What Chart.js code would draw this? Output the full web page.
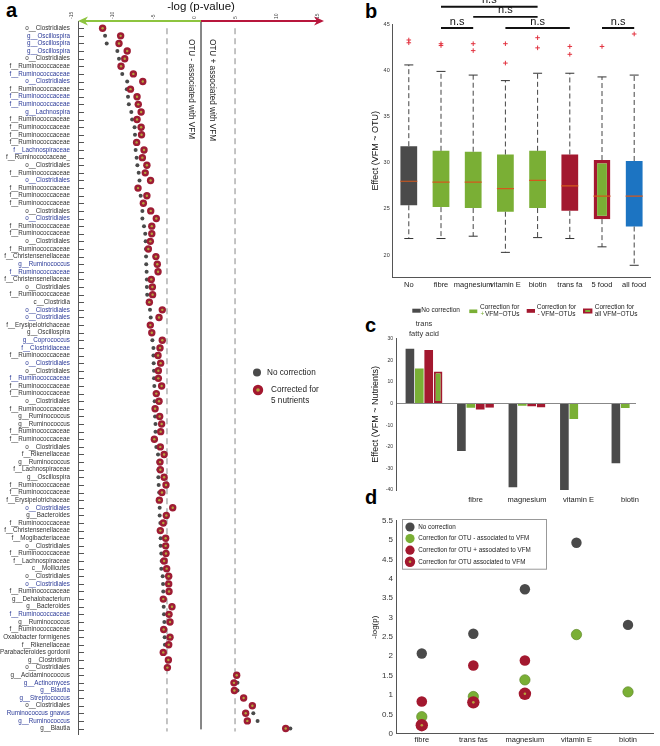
<!DOCTYPE html>
<html>
<head>
<meta charset="utf-8">
<script src="https://cdn.jsdelivr.net/npm/chart.js@4.4.1/dist/chart.umd.min.js"></script>
<style>
  body { margin:0; background:#fff; width:660px; height:746px; position:relative; overflow:hidden; font-family:'Liberation Sans', Arial, sans-serif; }
  canvas { position:absolute; }
  .tag { position:absolute; font:bold 20px 'Liberation Sans', Arial, sans-serif; line-height:20px; color:#000; }
</style>
</head>
<body>
<div class="tag" style="left:6px;top:0px">a</div>
<div class="tag" style="left:365px;top:1px">b</div>
<div class="tag" style="left:365px;top:315px">c</div>
<div class="tag" style="left:365px;top:487px">d</div>
<canvas id="chartA" width="340" height="746" style="left:0;top:0"></canvas>
<canvas id="chartB" width="290" height="292" style="left:370px;top:0"></canvas>
<canvas id="chartC" width="290" height="215" style="left:370px;top:292px"></canvas>
<canvas id="chartD" width="290" height="241" style="left:370px;top:505px"></canvas>
<script>
// ---------- panel a : OTUs, -log(p) with and without correction ----------
const taxa = [
  'o__Clostridiales','g__Oscillospira','g__Oscillospira','g__Oscillospira','o__Clostridiales',
  'f__Ruminococcaceae','f__Ruminococcaceae','o__Clostridiales','f__Ruminococcaceae','f__Ruminococcaceae',
  'f__Ruminococcaceae','g__Lachnospira','f__Ruminococcaceae','f__Ruminococcaceae','f__Ruminococcaceae',
  'f__Ruminococcaceae','f__Lachnospiraceae','f__Ruminococcaceae_','o__Clostridiales','f__Ruminococcaceae',
  'o__Clostridiales','f__Ruminococcaceae','f__Ruminococcaceae','f__Ruminococcaceae','o__Clostridiales',
  'o__Clostridiales','f__Ruminococcaceae','f__Ruminococcaceae','o__Clostridiales','f__Ruminococcaceae',
  'f__Christensenellaceae','g__Ruminococcus','f__Ruminococcaceae','f__Christensenellaceae','o__Clostridiales',
  'f__Ruminococcaceae','c__Clostridia','o__Clostridiales','o__Clostridiales','f__Erysipelotrichaceae',
  'g__Oscillospira','g__Coprococcus','f__Clostridiaceae','f__Ruminococcaceae','o__Clostridiales',
  'o__Clostridiales','f__Ruminococcaceae','f__Ruminococcaceae','f__Ruminococcaceae','o__Clostridiales',
  'f__Ruminococcaceae','g__Ruminococcus','g__Ruminococcus','f__Ruminococcaceae','f__Ruminococcaceae',
  'o__Clostridiales','f__Rikenellaceae','g__Ruminococcus','f__Lachnospiraceae','g__Oscillospira',
  'f__Ruminococcaceae','f__Ruminococcaceae','f__Erysipelotrichaceae','o__Clostridiales','g__Bacteroides',
  'f__Ruminococcaceae','f__Christensenellaceae','f__Mogibacteriaceae','o__Clostridiales','f__Ruminococcaceae',
  'f__Lachnospiraceae','c__Mollicutes','o__Clostridiales','o__Clostridiales','f__Ruminococcaceae',
  'g__Dehalobacterium','g__Bacteroides','f__Ruminococcaceae','g__Ruminococcus','f__Ruminococcaceae',
  'Oxalobacter formigenes','f__Rikenellaceae','Parabacteroides gordonii','g__Clostridium','o__Clostridiales',
  'g__Acidaminococcus','g__Actinomyces','g__Blautia','g__Streptococcus','o__Clostridiales',
  'Ruminococcus gnavus','g__Ruminococcus','g__Blautia'
];
// rows whose label is printed in blue (1-based)
const highlightedRows = [2,3,4,7,8,10,11,12,17,21,26,32,33,38,39,42,43,45,47,64,74,78,87,88,89,91,92];

const pNoCorrection = [
  -12.0,-11.7,-11.5,-10.2,-10.0,-9.8,-9.6,-9.0,-9.05,-8.9,
  -8.8,-8.5,-8.4,-8.1,-8.05,-8.05,-7.97,-7.85,-7.76,-7.6,
  -7.5,-7.7,-7.36,-7.1,-7.15,-7.15,-6.95,-6.8,-6.75,-6.72,
  -6.7,-6.68,-6.63,-6.6,-6.6,-6.56,-6.45,-6.22,-6.13,-6.15,
  -6.05,-5.93,-5.8,-5.8,-5.77,-5.73,-5.73,-5.69,-5.6,-5.65,
  -5.65,-5.6,-5.55,-5.55,-5.6,-5.45,-5.24,-5.2,-5.2,-5.2,
  -5.16,-5.1,-5.1,-5.04,-5.04,-4.96,-4.95,-4.92,-4.92,-4.84,
  -4.8,-4.84,-4.67,-4.63,-4.6,-4.6,-4.55,-4.51,-4.47,-4.5,
  -4.43,-4.4,-4.5,-4.0,-4.1,4.3,4.45,4.45,5.2,6.26,
  6.38,6.9,10.9
];
const pCorrected = [
  -12.0,-9.8,-10.0,-9.0,-9.3,-9.75,-8.25,-7.1,-8.6,-7.8,
  -7.65,-7.3,-7.8,-7.3,-7.25,-7.85,-6.95,-7.15,-6.6,-6.8,
  -6.15,-7.68,-6.6,-7.03,-6.13,-5.45,-6.0,-6.0,-6.18,-6.42,
  -5.5,-5.33,-5.24,-6.06,-5.93,-5.9,-6.3,-4.72,-5.12,-6.18,
  -6.0,-4.72,-5.0,-5.24,-4.92,-5.2,-5.2,-4.8,-5.45,-5.12,
  -5.6,-5.04,-4.8,-4.92,-5.69,-4.96,-4.5,-5.0,-4.96,-4.5,
  -4.27,-4.76,-5.08,-3.45,-4.23,-4.6,-4.96,-4.31,-4.31,-4.27,
  -4.5,-4.19,-3.94,-3.94,-3.9,-4.6,-3.54,-3.9,-3.78,-4.55,
  -3.78,-3.94,-4.6,-3.98,-4.1,4.35,4.02,4.07,5.2,6.26,
  5.45,5.65,10.33
];
const sigThreshold = 4.15;

// ---------- panel b : effect boxplots ----------
const boxGroups = ['No','fibre','magnesium','vitamin E','biotin','trans fa','5 food','all food'];
const boxMin    = [21.8, 21.8, 22.05, 20.3, 21.9, 21.8, 20.9, 18.9];
const boxQ1     = [25.4, 25.2, 25.1, 24.7, 25.1, 24.8, 23.9, 23.1];
const boxMedian = [28.0, 27.9, 27.9, 27.2, 28.1, 27.5, 26.4, 26.4];
const boxQ3     = [31.8, 31.3, 31.2, 30.9, 31.3, 30.9, 30.3, 30.2];
const boxMax    = [40.6, 39.9, 39.5, 38.9, 39.7, 39.7, 39.3, 39.5];
const outlierGroup = ['No','No','fibre','fibre','magnesium','magnesium','vitamin E','vitamin E','biotin','biotin','trans fa','trans fa','5 food','all food'];
const outlierValue = [43.0, 43.3, 42.7, 42.9, 42.9, 42.15, 42.9, 40.8, 43.55, 42.45, 42.6, 41.75, 42.6, 43.95];
const boxTicks = [20, 25, 30, 35, 40, 45];
const sigFrom  = ['fibre','magnesium','fibre','vitamin E','5 food'];
const sigTo    = ['biotin','biotin','magnesium','trans fa','all food'];
const sigLevel = [46.9, 45.8, 44.6, 44.6, 44.6];

// ---------- panel c : effect of nutrients ----------
const nutrients = ['trans fatty acid','fibre','magnesium','vitamin E','biotin'];
const effectNoCorr    = [25.3, -21.9, -38.7, -40, -27.6];
const effectPlusCorr  = [16.2, -2.0, -1.0, -7.1, -2.1];
const effectMinusCorr = [24.8, -2.8, -1.3, null, null];
const effectAllCorr   = [14.8, -2.0, -1.8, null, null];

// ---------- panel d : -log(p) of nutrients ----------
const dNutrients = ['fibre','trans fas','magnesium','vitamin E','biotin'];
const logpNoCorr    = [2.07, 2.58, 3.73, 4.93, 2.81];
const logpMinusOtu  = [0.44, 0.96, 1.39, 2.56, 1.08];
const logpPlusOtu   = [0.83, 1.76, 1.89, null, null];
const logpAllOtu    = [0.22, 0.81, 1.03, null, null];

const GRAY = '#4a4a4a', GREEN = '#7aaf35', RED = '#a3182f', BLUE = '#1c74c2', OLIVE = '#b6a43c';

Chart.defaults.font.family = "'Liberation Sans', Arial, sans-serif";
Chart.defaults.color = '#333';
Chart.defaults.plugins.legend.display = false;
Chart.defaults.plugins.tooltip.enabled = false;

// ----- panel a -----
const panelADecor = {
  id: 'panelADecor',
  afterDraw(chart) {
    const { ctx, chartArea, scales: { x, y } } = chart;
    ctx.save();
    // small inside ticks on the taxa axis
    ctx.strokeStyle = '#555';
    ctx.lineWidth = 1;
    y.ticks.forEach(t => {
      const py = Math.round(y.getPixelForValue(t.value)) + 0.5;
      ctx.beginPath(); ctx.moveTo(chartArea.left, py); ctx.lineTo(chartArea.left + 6, py); ctx.stroke();
    });
    // the two arrows on the top axis
    const x0 = x.getPixelForValue(0), yTop = chartArea.top;
    const arrow = (xEnd, color) => {
      const dir = Math.sign(xEnd - x0);
      ctx.strokeStyle = color; ctx.fillStyle = color; ctx.lineWidth = 2;
      ctx.beginPath(); ctx.moveTo(x0, yTop); ctx.lineTo(xEnd - dir * 6, yTop); ctx.stroke();
      ctx.beginPath();
      ctx.moveTo(xEnd, yTop);
      ctx.lineTo(xEnd - dir * 10, yTop - 4.5);
      ctx.lineTo(xEnd - dir * 7, yTop);
      ctx.lineTo(xEnd - dir * 10, yTop + 4.5);
      ctx.closePath(); ctx.fill();
    };
    arrow(x.getPixelForValue(x.min), '#8dc43f');
    arrow(x.getPixelForValue(x.max), '#b8163c');
    // rotated notes either side of zero
    ctx.fillStyle = '#222';
    ctx.font = "8.2px 'Liberation Sans', Arial, sans-serif";
    ctx.textBaseline = 'middle';
    ctx.textAlign = 'left';
    [['OTU - associated with VFM', -9.5], ['OTU + associated with VFM', 11.5]].forEach(([txt, dx]) => {
      ctx.save();
      ctx.translate(x0 + dx, 39);
      ctx.rotate(Math.PI / 2);
      ctx.fillText(txt, 0, 0);
      ctx.restore();
    });
    // legend
    ctx.font = "8.2px 'Liberation Sans', Arial, sans-serif";
    ctx.fillStyle = GRAY;
    ctx.beginPath(); ctx.arc(257, 372.5, 4, 0, Math.PI * 2); ctx.fill();
    ctx.fillStyle = RED;
    ctx.beginPath(); ctx.arc(258, 390, 5.2, 0, Math.PI * 2); ctx.fill();
    ctx.fillStyle = OLIVE;
    ctx.beginPath(); ctx.arc(258, 390, 1.8, 0, Math.PI * 2); ctx.fill();
    ctx.fillStyle = '#222';
    ctx.fillText('No correction', 267, 373);
    ctx.fillText('Corrected for', 271, 390);
    ctx.fillText('5 nutrients', 271, 401);
    ctx.restore();
  }
};

new Chart(document.getElementById('chartA'), {
  type: 'scatter',
  data: {
    datasets: [
      { data: pCorrected.map((v, i) => ({ x: v, y: i + 1 })), pointRadius: 1.2, backgroundColor: OLIVE, borderWidth: 0 },
      { data: pCorrected.map((v, i) => ({ x: v, y: i + 1 })), pointRadius: 3.7, backgroundColor: '#9e1c34', borderWidth: 0 },
      { data: pNoCorrection.map((v, i) => ({ x: v, y: i + 1 })), pointRadius: 2, backgroundColor: GRAY, borderWidth: 0 },
      { type: 'line', data: [{ x: -sigThreshold, y: 1 }, { x: -sigThreshold, y: 93.4 }], borderColor: '#aaa', borderDash: [6, 4], borderWidth: 1.4, pointRadius: 0 },
      { type: 'line', data: [{ x: sigThreshold, y: 1 }, { x: sigThreshold, y: 93.4 }], borderColor: '#aaa', borderDash: [6, 4], borderWidth: 1.4, pointRadius: 0 },
      { type: 'line', data: [{ x: 0, y: 0.05 }, { x: 0, y: 93.1 }], borderColor: '#777', borderWidth: 1, pointRadius: 0 }
    ]
  },
  options: {
    responsive: false,
    animation: false,
    devicePixelRatio: 1,
    layout: { padding: { top: 0, right: 16, bottom: 8, left: 0 } },
    scales: {
      x: {
        type: 'linear', position: 'top', min: -15, max: 15,
        ticks: { stepSize: 5, font: { size: 5 }, minRotation: 90, maxRotation: 90, padding: 2, color: '#444' },
        grid: { display: false, drawTicks: false },
        border: { display: false },
        title: { display: true, text: '-log (p-value)', font: { size: 11.5 }, padding: 0, color: '#111' },
        afterFit: s => { s.height = 21; }
      },
      y: {
        type: 'linear', reverse: true, min: 0.05, max: 93.75,
        afterBuildTicks: s => { s.ticks = taxa.map((t, i) => ({ value: i + 1 })); },
        ticks: {
          autoSkip: false, font: { size: 6.3 }, padding: 8,
          callback: v => taxa[v - 1],
          color: ctx => highlightedRows.includes(ctx.tick.value) ? '#2b3a98' : '#333'
        },
        grid: { display: false, drawTicks: false },
        border: { display: true, color: '#555' },
        afterFit: s => { s.width = 78; }
      }
    }
  },
  plugins: [panelADecor]
});

// ----- panel b -----
const whiskerPoints = [];
boxGroups.forEach((g, i) => {
  whiskerPoints.push({ x: g, y: boxQ3[i] }, { x: g, y: boxMax[i] }, { x: g, y: null });
  whiskerPoints.push({ x: g, y: boxQ1[i] }, { x: g, y: boxMin[i] }, { x: g, y: null });
});
const boxColors = [GRAY, GREEN, GREEN, GREEN, GREEN, RED, GREEN, BLUE];

const sigBrackets = {
  id: 'sigBrackets',
  afterDraw(chart) {
    const { ctx, scales: { x, y } } = chart;
    ctx.save();
    ctx.strokeStyle = '#111'; ctx.lineWidth = 1.8;
    ctx.fillStyle = '#111';
    ctx.font = "11px 'Liberation Sans', Arial, sans-serif";
    ctx.textAlign = 'center'; ctx.textBaseline = 'bottom';
    sigFrom.forEach((from, k) => {
      const xa = x.getPixelForValue(boxGroups.indexOf(from));
      const xb = x.getPixelForValue(boxGroups.indexOf(sigTo[k]));
      const py = y.getPixelForValue(sigLevel[k]);
      ctx.beginPath(); ctx.moveTo(xa, py); ctx.lineTo(xb, py); ctx.stroke();
      ctx.fillText('n.s', (xa + xb) / 2, py - 1);
    });
    ctx.restore();
  }
};

new Chart(document.getElementById('chartB'), {
  type: 'bar',
  data: {
    labels: boxGroups,
    datasets: [
      { type: 'scatter', data: outlierGroup.map((g, i) => ({ x: g, y: outlierValue[i] })), pointStyle: 'cross', pointRadius: 2.3, borderColor: '#e2323f', borderWidth: 1 },
      { type: 'scatter', data: boxGroups.map((g, i) => ({ x: g, y: boxMedian[i] })), pointStyle: 'line', pointRadius: 8.5, borderColor: '#d4581c', borderWidth: 1.2 },
      { type: 'scatter', data: boxGroups.map((g, i) => ({ x: g, y: boxMin[i] })).concat(boxGroups.map((g, i) => ({ x: g, y: boxMax[i] }))), pointStyle: 'line', pointRadius: 4.5, borderColor: '#333', borderWidth: 1 },
      { type: 'line', data: whiskerPoints, borderColor: '#444', borderWidth: 1, borderDash: [5, 3], pointRadius: 0, spanGaps: false },
      {
        data: boxGroups.map((g, i) => [boxQ1[i], boxQ3[i]]),
        backgroundColor: boxColors,
        borderColor: boxGroups.map((g, i) => g === '5 food' ? RED : boxColors[i]),
        borderWidth: boxGroups.map(g => g === '5 food' ? 3.5 : 0),
        borderSkipped: false,
        categoryPercentage: 0.52, barPercentage: 1
      }
    ]
  },
  options: {
    responsive: false,
    animation: false,
    devicePixelRatio: 1,
    layout: { padding: { top: 24.3, right: 3, bottom: 0, left: 0 } },
    scales: {
      x: {
        type: 'category',
        ticks: { font: { size: 7.5 }, padding: 3, color: '#222', autoSkip: false, minRotation: 0, maxRotation: 0 },
        grid: { display: false, drawTicks: false },
        border: { color: '#555' },
        afterFit: s => { s.height = 14.7; }
      },
      y: {
        min: 17.6, max: 45,
        afterBuildTicks: s => { s.ticks = boxTicks.map(v => ({ value: v })); },
        ticks: { font: { size: 5.5 }, padding: 3 },
        grid: { display: false, drawTicks: false },
        border: { color: '#555' },
        title: { display: true, text: 'Effect (VFM ~ OTU)', font: { size: 9 }, padding: { top: 0, bottom: 2 }, color: '#111' },
        afterFit: s => { s.width = 22.7; }
      }
    }
  },
  plugins: [sigBrackets]
});

// ----- panel c -----
const panelCDecor = {
  id: 'panelCDecor',
  afterDraw(chart) {
    const { ctx, scales: { x } } = chart;
    ctx.save();
    ctx.font = "6.5px 'Liberation Sans', Arial, sans-serif";
    ctx.textBaseline = 'middle'; ctx.textAlign = 'left';
    // legend swatches
    ctx.fillStyle = GRAY; ctx.fillRect(42.3, 16.7, 8.4, 4);
    ctx.fillStyle = GREEN; ctx.fillRect(99.3, 17.5, 8, 3.6);
    ctx.fillStyle = RED; ctx.fillRect(156.7, 17, 8.3, 3.8);
    ctx.fillStyle = RED; ctx.fillRect(213, 16.5, 9.4, 5);
    ctx.fillStyle = GREEN; ctx.fillRect(215.2, 18, 5, 2);
    ctx.fillStyle = '#222';
    ctx.fillText('No correction', 51.3, 18.7);
    ctx.fillText('Correction for', 110, 15);
    ctx.fillText('Correction for', 166.7, 15);
    ctx.fillText('Correction for', 224.7, 15);
    ctx.fillText('VFM~OTUs', 115, 22.3);
    ctx.fillText('VFM~OTUs', 171, 22.3);
    ctx.fillText('all VFM~OTUs', 224.7, 22.3);
    ctx.fillStyle = GREEN; ctx.fillText('+', 110.5, 22.3);
    ctx.fillStyle = RED; ctx.fillText('-', 167.5, 22.3);
    // first category name sits on top of its bars
    const words = nutrients[0].split(' ');
    ctx.fillStyle = '#333';
    ctx.font = "7.5px 'Liberation Sans', Arial, sans-serif";
    ctx.textAlign = 'center';
    ctx.fillText(words[0], x.getPixelForValue(1), 32);
    ctx.fillText(words.slice(1).join(' '), x.getPixelForValue(1), 41.5);
    ctx.restore();
  }
};

const toBars = arr => arr.map((v, i) => ({ x: i + 1, y: v }));
new Chart(document.getElementById('chartC'), {
  type: 'bar',
  data: {
    datasets: [
      { data: toBars(effectNoCorr), backgroundColor: GRAY },
      { data: toBars(effectPlusCorr), backgroundColor: GREEN },
      { data: toBars(effectMinusCorr), backgroundColor: RED },
      { data: toBars(effectAllCorr), backgroundColor: GREEN, borderColor: RED, borderWidth: 2, borderSkipped: false }
    ]
  },
  options: {
    responsive: false,
    animation: false,
    devicePixelRatio: 1,
    categoryPercentage: 0.73,
    barPercentage: 0.92,
    layout: { padding: { top: 46.7, right: 24, bottom: 0, left: 0 } },
    scales: {
      x: {
        type: 'linear', offset: false, min: 0.456, max: 5.117,
        afterBuildTicks: s => { s.ticks = nutrients.slice(1).map((n, i) => ({ value: i + 2 })); },
        ticks: { callback: v => nutrients[v - 1], font: { size: 7.5 }, padding: 5, color: '#222', autoSkip: false, maxRotation: 0 },
        grid: { display: false, drawTicks: false },
        border: { display: false },
        afterFit: s => { s.height = 17; }
      },
      y: {
        min: -40, max: 30,
        ticks: { stepSize: 10, font: { size: 5 }, padding: 3 },
        grid: { drawTicks: false, color: ctx => ctx.tick && ctx.tick.value === 0 ? '#888' : 'rgba(0,0,0,0)' },
        border: { color: '#555' },
        title: { display: true, text: 'Effect (VFM ~ Nutrients)', font: { size: 9 }, padding: { top: 0, bottom: 2 }, color: '#111' },
        afterFit: s => { s.width = 26; }
      }
    }
  },
  plugins: [panelCDecor]
});

// ----- panel d -----
const dLegend = ['No correction', 'Correction for OTU - associated to VFM', 'Correction for OTU + associated to VFM', 'Correction for OTU associated to VFM'];
const panelDLegend = {
  id: 'panelDLegend',
  afterDraw(chart) {
    const { ctx } = chart;
    ctx.save();
    ctx.fillStyle = '#fff'; ctx.strokeStyle = '#999'; ctx.lineWidth = 1;
    ctx.fillRect(32.7, 14.3, 144, 49.7);
    ctx.strokeRect(32.5, 14.5, 144, 49.7);
    const colors = [GRAY, GREEN, RED, RED];
    ctx.font = "6.3px 'Liberation Sans', Arial, sans-serif";
    ctx.textBaseline = 'middle'; ctx.textAlign = 'left';
    dLegend.forEach((txt, k) => {
      const py = 22 + k * 11.6;
      ctx.fillStyle = colors[k];
      ctx.beginPath(); ctx.arc(40, py, k === 3 ? 5.2 : 4.6, 0, Math.PI * 2); ctx.fill();
      if (k === 3) { ctx.fillStyle = OLIVE; ctx.beginPath(); ctx.arc(40, py, 1.3, 0, Math.PI * 2); ctx.fill(); }
      ctx.fillStyle = '#222';
      ctx.fillText(txt, 48.3, py);
    });
    ctx.restore();
  }
};

const toPoints = arr => arr.map((v, i) => ({ x: dNutrients[i], y: v })).filter(p => p.y !== null);
new Chart(document.getElementById('chartD'), {
  type: 'scatter',
  data: {
    labels: dNutrients,
    datasets: [
      { data: toPoints(logpAllOtu), pointRadius: 1.3, backgroundColor: OLIVE, borderWidth: 0 },
      { data: toPoints(logpAllOtu), pointRadius: 6.2, backgroundColor: RED, borderWidth: 0 },
      { data: toPoints(logpMinusOtu), pointRadius: 5.2, backgroundColor: GREEN, borderColor: '#55801f', borderWidth: 0.6 },
      { data: toPoints(logpPlusOtu), pointRadius: 5.3, backgroundColor: RED, borderWidth: 0 },
      { data: toPoints(logpNoCorr), pointRadius: 5.2, backgroundColor: GRAY, borderWidth: 0 }
    ]
  },
  options: {
    responsive: false,
    animation: false,
    devicePixelRatio: 1,
    layout: { padding: { top: 15.7, right: 0.5, bottom: 0, left: 0 } },
    scales: {
      x: {
        type: 'category', labels: dNutrients, offset: true,
        ticks: { font: { size: 7.5 }, padding: 2, color: '#222', autoSkip: false, maxRotation: 0 },
        grid: { display: false, drawTicks: false },
        border: { color: '#555' },
        afterFit: s => { s.height = 12.3; }
      },
      y: {
        min: 0, max: 5.5,
        ticks: { stepSize: 0.5, font: { size: 8 }, padding: 3, callback: v => String(Math.round(v * 10) / 10) },
        grid: { display: false, drawTicks: false },
        border: { color: '#555' },
        title: { display: true, text: '-log(p)', font: { size: 8 }, padding: { top: 0, bottom: 0 }, color: '#111' },
        afterFit: s => { s.width = 26; }
      }
    }
  },
  plugins: [panelDLegend]
});
</script>
</body>
</html>
